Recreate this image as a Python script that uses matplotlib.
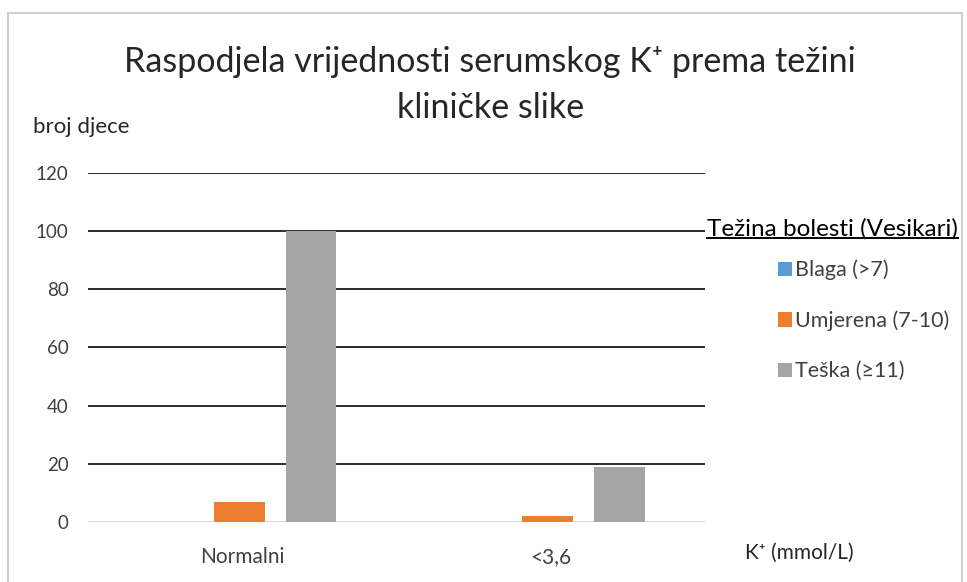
import matplotlib.pyplot as plt
import numpy as np
from matplotlib.lines import Line2D
from matplotlib.patches import Rectangle

plt.rcParams['font.family'] = ['Lato', 'DejaVu Sans']

categories = ['Normalni', '<3,6']
series_names = ['Blaga (>7)', 'Umjerena (7-10)', 'Teška (≥11)']
series_values = [
    [0, 0],
    [7, 2],
    [100, 19],
]
colors = ['#5B9BD5', '#ED7D31', '#A5A5A5']
y_ticks = [0, 20, 40, 60, 80, 100, 120]

fig = plt.figure(figsize=(9.67, 5.82), dpi=100)
fig.patches.append(Rectangle((0.008, -0.02), 0.987, 0.998, transform=fig.transFigure,
                             fill=False, edgecolor='#d0d0d0', lw=1.5))

ax = fig.add_axes([0.091, 0.103, 0.638, 0.600])
x = np.arange(len(categories))
width = 0.165
step = 0.233
for i, (name, vals) in enumerate(zip(series_names, series_values)):
    ax.bar(x + (i - 1) * step - 0.01, vals, width=width, color=colors[i], label=name, zorder=3)

ax.set_xlim(-0.5, 1.5)
ax.set_ylim(0, 120)
ax.set_yticks(y_ticks)
for t in y_ticks:
    ax.axhline(t, color='#d9d9d9' if t == 0 else '#1a1a1a', lw=1.3, zorder=1)
ax.set_xticks(x)
ax.set_xticklabels(categories)
ax.tick_params(length=0, colors='#404040')
ax.tick_params(axis='x', labelsize=15, pad=18)
ax.tick_params(axis='y', labelsize=13.5, pad=14)
for s in ax.spines.values():
    s.set_visible(False)

fig.text(0.507, 0.893, 'Raspodjela vrijednosti serumskog K⁺ prema težini',
         ha='center', va='center', fontsize=24.5, color='#262626')
fig.text(0.507, 0.815, 'kliničke slike', ha='center', va='center', fontsize=24.5, color='#262626')
fig.text(0.034, 0.782, 'broj djece', ha='left', va='center', fontsize=16, color='#262626')
fig.text(0.770, 0.050, 'K⁺ (mmol/L)', ha='left', va='center', fontsize=15, color='#262626')

lt = fig.text(0.731, 0.607, 'Težina bolesti (Vesikari)', ha='left', va='center',
              fontsize=17.5, color='black')
fig.canvas.draw()
bb = lt.get_window_extent().transformed(fig.transFigure.inverted())
fig.add_artist(Line2D([bb.x0, bb.x1], [bb.y0 + 0.002, bb.y0 + 0.002],
                      transform=fig.transFigure, color='black', lw=1.4))

ax.legend(loc='upper left', bbox_to_anchor=(0.793, 0.572), bbox_transform=fig.transFigure,
          frameon=False, fontsize=15.5, labelcolor='#404040', handlelength=0.65,
          handleheight=0.65, handletextpad=0.15, labelspacing=1.4, borderpad=0)

fig.savefig('out.png', dpi=100)
